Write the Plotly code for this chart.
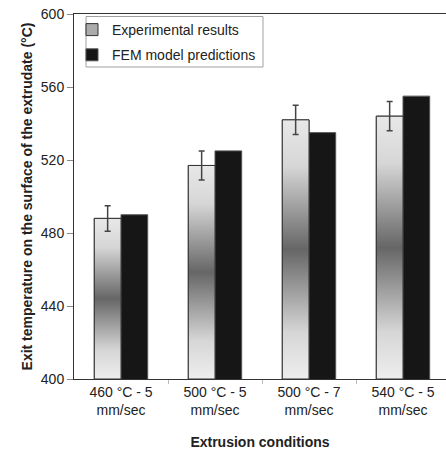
import plotly.graph_objects as go

# ---- data ----
conditions = ["460 °C - 5<br>mm/sec", "500 °C - 5<br>mm/sec", "500 °C - 7<br>mm/sec", "540 °C - 5<br>mm/sec"]
experimental = [488, 517, 542, 544]
experimental_err = [7, 8, 8, 8]
fem = [490, 525, 535, 555]
y_ticks = [400, 440, 480, 520, 560, 600]

Y_MIN, Y_MAX = 400, 600
BAR_W = 0.284
pos = list(range(len(conditions)))
exp_x = [p - BAR_W / 2 for p in pos]
fem_x = [p + BAR_W / 2 for p in pos]

FONT = "Liberation Sans, Arial, sans-serif"
grad = [[0.0, "#eeeeee"], [0.18, "#d6d6d6"], [0.5, "#666666"], [0.82, "#d6d6d6"], [1.0, "#e8e8e8"]]

fig = go.Figure()

fig.add_trace(go.Bar(
    x=fem_x, y=fem, width=BAR_W, name="FEM model predictions",
    marker=dict(color="#161616", line=dict(color="#555555", width=1)),
    legendrank=2, legendgroup="b",
))
fig.add_trace(go.Bar(
    x=exp_x, y=experimental, width=BAR_W, name="Experimental results",
    marker=dict(color="#ababab", line=dict(color="#333333", width=1)),
    legendrank=1, legendgroup="a",
))

# gradient fill of the experimental bars
for xc, v in zip(exp_x, experimental):
    fig.add_trace(go.Scatter(
        x=[xc - BAR_W / 2, xc + BAR_W / 2, xc + BAR_W / 2, xc - BAR_W / 2, xc - BAR_W / 2],
        y=[Y_MIN, Y_MIN, v, v, Y_MIN],
        mode="lines", fill="toself",
        fillgradient=dict(type="vertical", colorscale=grad),
        line=dict(color="#333333", width=1),
        showlegend=False, hoverinfo="skip",
    ))

# error bars
fig.add_trace(go.Scatter(
    x=exp_x, y=experimental, mode="markers",
    marker=dict(size=1, opacity=0),
    error_y=dict(type="data", array=experimental_err, visible=True,
                 color="#444444", thickness=1.5, width=3),
    showlegend=False, hoverinfo="skip",
))

span = 372 / 94.0
fig.update_layout(
    width=446, height=450,
    margin=dict(l=74, r=0, t=14, b=71, autoexpand=False),
    paper_bgcolor="white", plot_bgcolor="white",
    font=dict(family=FONT, size=13, color="#222222"),
    showlegend=True,
    legend=dict(
        x=(72 - 74) / 372, y=1.0, xanchor="left", yanchor="top",
        bgcolor="rgba(0,0,0,0)", borderwidth=0,
        font=dict(family=FONT, size=14, color="#222222"),
        traceorder="grouped", tracegroupgap=4,
    ),
    shapes=[dict(type="rect", xref="paper", yref="paper",
                 x0=(86 - 74) / 372, x1=(263 - 74) / 372,
                 y0=1 - (67 - 14) / 365, y1=1 - (16.5 - 14) / 365,
                 line=dict(color="#a0a0a0", width=1), fillcolor="rgba(0,0,0,0)", layer="below")],
    xaxis=dict(
        range=[-0.5, -0.5 + span], automargin=False,
        tickmode="array", tickvals=pos, ticktext=conditions,
        ticks="", showgrid=False, zeroline=False,
        showline=True, linecolor="#333333", linewidth=1, mirror=True,
        tickfont=dict(size=14),
        minor=dict(tickmode="array", tickvals=[p + 0.5 for p in pos[:-1]],
                   ticks="outside", ticklen=4, tickcolor="#bbbbbb", showgrid=False),
        title=dict(text="<b>Extrusion conditions</b>", font=dict(size=14), standoff=21),
    ),
    yaxis=dict(
        range=[Y_MIN, Y_MAX], tickmode="array", tickvals=y_ticks, automargin=False,
        ticks="outside", ticklen=6, tickcolor="#888888",
        showgrid=False, zeroline=False,
        showline=True, linecolor="#333333", linewidth=1,
        tickfont=dict(size=14),
        title=dict(text="<b>Exit temperature on the surface of the extrudate (°C)</b>",
                   font=dict(size=14), standoff=4),
    ),
)

fig.write_html("out.html", config={"displayModeBar": False},
               post_script="document.body.style.margin='0';document.body.style.overflow='hidden';")
